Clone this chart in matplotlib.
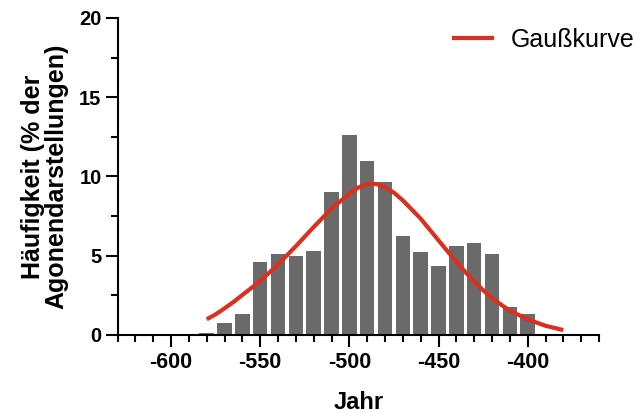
import matplotlib
matplotlib.use("Agg")
import matplotlib.pyplot as plt
from matplotlib.ticker import MultipleLocator

plt.rcParams["font.family"] = ["Liberation Sans", "DejaVu Sans"]
plt.rcParams["axes.unicode_minus"] = False

# histogram: share of depictions per decade (bin centres)
years = [-580, -570, -560, -550, -540, -530, -520, -510, -500, -490,
         -480, -470, -460, -450, -440, -430, -420, -410, -400]
freq = [0.15, 0.74, 1.3, 4.63, 5.1, 5.0, 5.3, 9.04, 12.6, 10.96,
        9.67, 6.27, 5.22, 4.38, 5.62, 5.83, 5.14, 1.78, 1.3]

# fitted Gaussian, values
curve_years = [-580, -575, -570, -565, -560, -550, -540, -530, -520, -510,
               -500, -495, -490, -485, -480, -475, -470, -460, -450, -440,
               -430, -420, -410, -400, -390, -380]
curve_vals = [0.99, 1.3, 1.68, 2.08, 2.52, 3.4, 4.45, 5.6, 6.81, 7.97,
              8.91, 9.3, 9.52, 9.53, 9.32, 8.98, 8.49, 7.34, 5.97, 4.61,
              3.35, 2.31, 1.53, 0.99, 0.58, 0.31]

fig = plt.figure(figsize=(6.39, 4.13), dpi=100)
ax = fig.add_axes([0.1839, 0.1889, 0.7535, 0.7676])

ax.bar(years, freq, width=8.1, color="#6a6a6a", zorder=2)
line, = ax.plot(curve_years, curve_vals, color="#dc2f1f", lw=3,
                solid_joinstyle="round", solid_capstyle="butt", zorder=3,
                label="Gaußkurve")

ax.set_xlim(-630, -360)
ax.set_ylim(0, 20)

ax.xaxis.set_major_locator(MultipleLocator(50))
ax.xaxis.set_minor_locator(MultipleLocator(10))
ax.yaxis.set_major_locator(MultipleLocator(5))
ax.yaxis.set_minor_locator(MultipleLocator(2.5))
ax.set_xticks([-600, -550, -500, -450, -400])

for side in ("top", "right"):
    ax.spines[side].set_visible(False)
for side in ("left", "bottom"):
    ax.spines[side].set_linewidth(1.5)

ax.tick_params(axis="both", which="major", direction="out", width=1.5,
               length=8.5, labelsize=14.5)
ax.tick_params(axis="both", which="minor", direction="out", width=1.5,
               length=5)
ax.tick_params(axis="x", which="major", pad=4, labelsize=15.5)
ax.tick_params(axis="y", which="major", pad=3)
for lab in ax.get_xticklabels() + ax.get_yticklabels():
    lab.set_fontweight("bold")

ax.set_xlabel("Jahr", fontsize=17, fontweight="bold", labelpad=13)
ax.set_ylabel("Häufigkeit (% der\nAgonendarstellungen)", fontsize=18,
              fontweight="bold", linespacing=0.95, labelpad=8)

ax.legend(handles=[line], loc="center left",
          bbox_to_anchor=(451.7 / 639, 1 - 40 / 413),
          bbox_transform=fig.transFigure, frameon=False, fontsize=18,
          handlelength=1.68, handletextpad=0.68, borderpad=0,
          borderaxespad=0)

fig.savefig("out.png", dpi=100, facecolor="white")
